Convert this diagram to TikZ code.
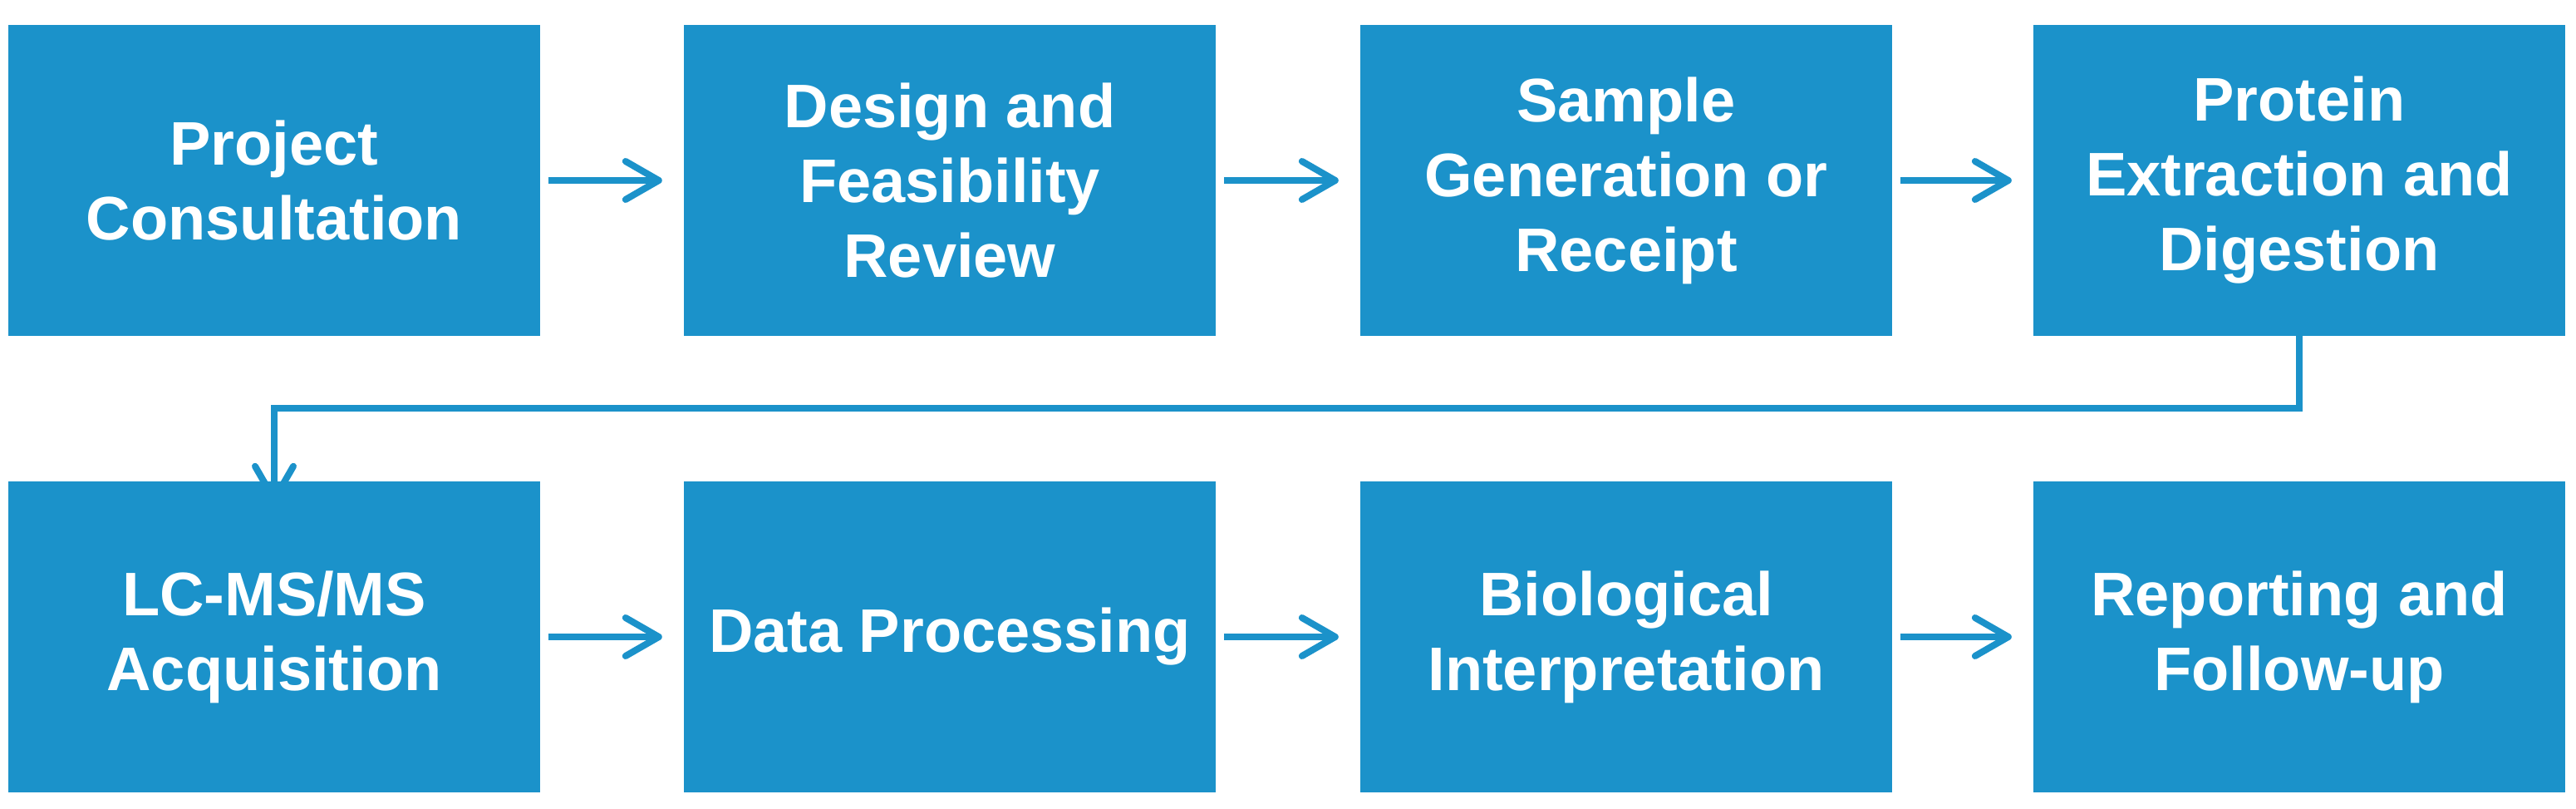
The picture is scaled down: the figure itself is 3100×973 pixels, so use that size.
\documentclass[tikz,border=0pt]{standalone}
\usepackage{fontspec}
\setmainfont{Liberation Sans}
\usetikzlibrary{arrows.meta}
\definecolor{boxblue}{HTML}{1B92CA}
\begin{document}
\begin{tikzpicture}[x=1pt,y=-1pt,
  stepbox/.style={fill=boxblue,draw=none,minimum width=640pt,minimum height=374pt,inner sep=0pt,
    text=white,align=center,font=\fontsize{74}{90}\selectfont\bfseries},
  conn/.style={draw=boxblue,line width=8pt,-{Straight Barb[length=40pt,width=46pt,line cap=round,line join=round]}}]
\useasboundingbox (0,0) rectangle (3100,973);
\node[stepbox] (a) at (330,217) {Project\\Consultation};
\node[stepbox] (b) at (1143,217) {Design and\\Feasibility\\Review};
\node[stepbox] (c) at (1957,217) {Sample\\Generation or\\Receipt};
\node[stepbox] (d) at (2767,217) {Protein\\Extraction and\\Digestion};
\node[stepbox] (e) at (330,766) {LC-MS/MS\\Acquisition};
\node[stepbox] (f) at (1143,766) {Data Processing};
\node[stepbox] (g) at (1957,766) {Biological\\Interpretation};
\node[stepbox] (h) at (2767,766) {Reporting and\\Follow-up};
\foreach \u/\v in {a/b,b/c,c/d,e/f,f/g,g/h}{
  \draw[conn] ([xshift=10pt]\u.east) -- ([xshift=-26pt]\v.west);
}
\coordinate (t1) at ([yshift=12pt]d.south);
\coordinate (t2) at ([yshift=-26pt]e.north);
\draw[conn,line join=miter] (t1) -- (2767,491) -- (330,491) -- (t2);
\end{tikzpicture}
\end{document}
